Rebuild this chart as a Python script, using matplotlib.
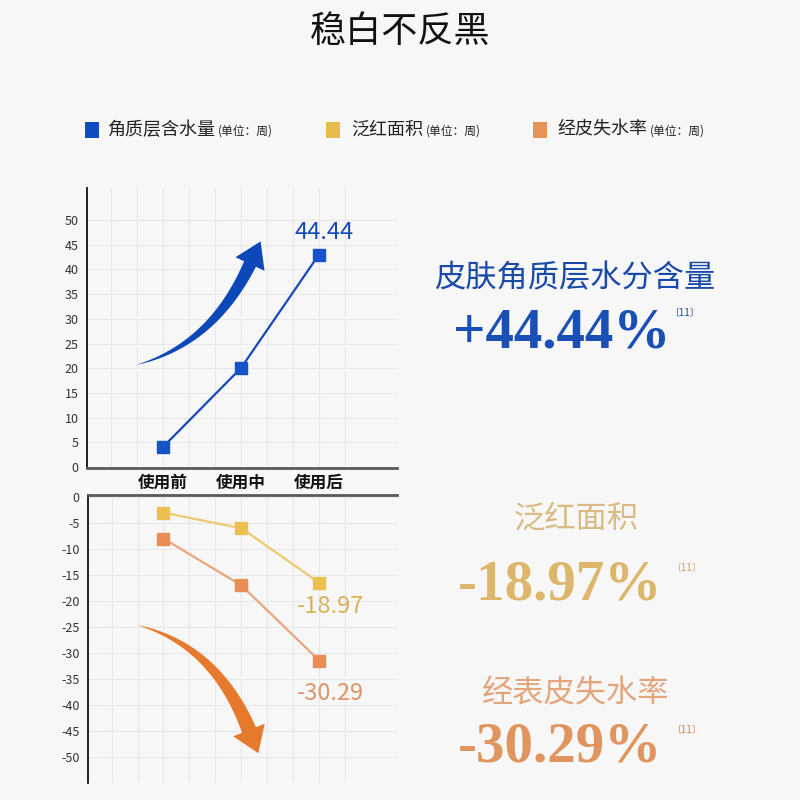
import numpy as np
import matplotlib
matplotlib.use("Agg")
from matplotlib import pyplot as plt
from matplotlib.patches import Polygon, Rectangle

plt.rcParams['font.family'] = ['Noto Sans CJK SC', 'DejaVu Sans']

# data
stages = ["使用前", "使用中", "使用后"]
moisture = [4, 20, 43]          # 角质层含水量
redness = [-3, -6, -16.5]       # 泛红面积
water_loss = [-8, -17, -31.5]   # 经皮失水率
moisture_label = "44.44"
redness_label = "-18.97"
water_loss_label = "-30.29"

top_ticks = list(range(0, 55, 5))
bottom_ticks = list(range(0, -55, -5))

BG = "#f7f7f7"
BLUE = "#1449b8"

W = H = 800
fig = plt.figure(figsize=(8, 8), dpi=100, facecolor=BG)


def fx(x):
    return x / W


def fy(y):
    return 1 - y / H


def px(x, y):
    return (fx(x), fy(y))


def add_axes(left, top, right, bottom):
    return fig.add_axes([fx(left), fy(bottom), fx(right) - fx(left), (bottom - top) / H])


def style_axes(ax, ticks):
    ax.set_facecolor(BG)
    ax.set_yticks(ticks)
    ax.set_yticklabels([str(t) for t in ticks], fontsize=9, color="#333333")
    ax.set_xticks(range(len(stages)))
    ax.set_xticks(np.arange(-2, 8) / 3, minor=True)
    ax.tick_params(length=0, which="both", pad=6)
    ax.grid(True, which="both", axis="x", color="#e8e8e8", lw=0.8)
    ax.grid(True, which="major", axis="y", color="#e8e8e8", lw=0.8)
    ax.set_axisbelow(True)
    ax.set_xlim(-0.97, 3.0)
    ax.spines["right"].set_visible(False)
    ax.spines["left"].set_color("#111111")
    ax.spines["left"].set_linewidth(1.3)


# upper chart
ax1 = add_axes(87, 188, 397, 468)
style_axes(ax1, top_ticks)
ax1.set_ylim(-0.2, 56.5)
ax1.spines["top"].set_visible(False)
ax1.spines["bottom"].set_color("#5a5a5a")
ax1.spines["bottom"].set_linewidth(2)
ax1.set_xticklabels(stages, fontsize=12, fontweight="bold", color="#111111")
ax1.tick_params(axis="x", pad=4)
ax1.plot(range(len(stages)), moisture, color=BLUE, lw=1.6, marker="s", ms=8.5,
         markerfacecolor="#1652c8", markeredgecolor="#1652c8", zorder=3)
ax1.text(2.07, moisture[-1] + 4.5, moisture_label, color=BLUE, fontsize=17,
         ha="center", va="center")

# lower chart
ax2 = add_axes(88, 495, 397, 783)
style_axes(ax2, bottom_ticks)
ax2.set_ylim(-55.1, 0.4)
ax2.spines["bottom"].set_visible(False)
ax2.spines["top"].set_color("#5a5a5a")
ax2.spines["top"].set_linewidth(2)
ax2.set_xticklabels([])
ax2.plot(range(len(stages)), redness, color="#eccb6e", lw=1.6, marker="s", ms=8.5,
         markerfacecolor="#ebc050", markeredgecolor="#ebc050", zorder=3)
ax2.plot(range(len(stages)), water_loss, color="#e8a47a", lw=1.6, marker="s", ms=8.5,
         markerfacecolor="#e78d55", markeredgecolor="#e78d55", zorder=3)
ax2.text(2.15, redness[-1] - 4.6, redness_label, color="#d9b055", fontsize=17,
         ha="center", va="center")
ax2.text(2.15, water_loss[-1] - 6.3, water_loss_label, color="#dc9468", fontsize=17,
         ha="center", va="center")


def tapered_arrow(p0, p1, p2, w_end, head_len, head_w, color):
    p0, p1, p2 = map(np.array, (p0, p1, p2))
    t = np.linspace(0, 1, 60)[:, None]
    pts = (1 - t) ** 2 * p0 + 2 * (1 - t) * t * p1 + t ** 2 * p2
    der = 2 * (1 - t) * (p1 - p0) + 2 * t * (p2 - p1)
    der = der / np.linalg.norm(der, axis=1, keepdims=True)
    nrm = np.column_stack([-der[:, 1], der[:, 0]])
    w = w_end * t[:, 0] ** 0.9 / 2
    left = pts + nrm * w[:, None]
    right = pts - nrm * w[:, None]
    d, n = der[-1], nrm[-1]
    head = [p2 + n * head_w / 2, p2 + d * head_len, p2 - n * head_w / 2]
    poly = np.vstack([left, head, right[::-1]])
    poly = np.column_stack([poly[:, 0] / W, 1 - poly[:, 1] / H])
    fig.add_artist(Polygon(poly, closed=True, transform=fig.transFigure,
                           facecolor=color, edgecolor="none", zorder=5))


tapered_arrow((136, 365), (212, 345), (250, 264), 13, 25, 32, "#0c48b8")
tapered_arrow((137, 625), (215, 645), (249, 730), 15, 25, 34, "#e67a2c")

# title
fig.text(*px(400, 32), "稳白不反黑", fontsize=26, ha="center", va="center", color="#111111")

# legend row
legend_items = [("角质层含水量", "#0f4cc4", 85, 107),
                ("泛红面积", "#e8bc4a", 326, 351),
                ("经皮失水率", "#e59356", 533, 557)]
for name, col, sx, tx in legend_items:
    fig.add_artist(Rectangle(px(sx, 138), 14 / W, 16 / H, transform=fig.transFigure,
                             facecolor=col, edgecolor="none"))
    t = fig.text(*px(tx, 130), name, fontsize=13, ha="left", va="center", color="#222222")
    fig.canvas.draw()
    bb = t.get_window_extent()
    fig.text(bb.x1 / W + 0.003, fy(131), "(单位：周)", fontsize=8.5, ha="left",
             va="center", color="#222222")

# right side callouts
serif = ["Liberation Serif", "DejaVu Serif"]
fig.text(*px(575, 278), "皮肤角质层水分含量", fontsize=22.5, ha="center", va="center",
         color="#1a4aa8", fontweight="medium")
fig.text(*px(562, 334), "+44.44%", fontsize=41, ha="center", va="center", color="#1a4fb5",
         family=serif, fontweight="bold")
fig.text(*px(684, 313), "〔11〕", fontsize=7, ha="center", va="center", color="#1a4aa8")

fig.text(*px(576, 519), "泛红面积", fontsize=22.5, ha="center", va="center",
         color="#d9bb82", fontweight="medium")
fig.text(*px(560, 585), "-18.97%", fontsize=41, ha="center", va="center", color="#dcb66a",
         family=serif, fontweight="bold")
fig.text(*px(686, 568), "〔11〕", fontsize=7, ha="center", va="center", color="#c9a060")

fig.text(*px(576, 693), "经表皮失水率", fontsize=22.5, ha="center", va="center",
         color="#e2a57c", fontweight="medium")
fig.text(*px(560, 748), "-30.29%", fontsize=41, ha="center", va="center", color="#e0955e",
         family=serif, fontweight="bold")
fig.text(*px(686, 730), "〔11〕", fontsize=7, ha="center", va="center", color="#d08050")

fig.savefig("out.png", dpi=100, facecolor=BG)
